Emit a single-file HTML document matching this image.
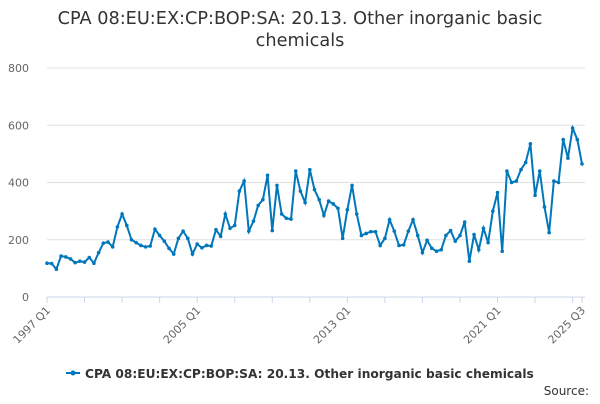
<!DOCTYPE html>
<html><head><meta charset="utf-8"><style>
body{margin:0;background:#fff;font-family:"DejaVu Sans","Liberation Sans",sans-serif}
svg text{font-family:"DejaVu Sans","Liberation Sans",sans-serif}
</style></head><body>
<svg id="c" width="600" height="400">
<text x="300" y="24" text-anchor="middle" font-size="17.7" fill="#333">CPA 08:EU:EX:CP:BOP:SA: 20.13. Other inorganic basic</text>
<text x="300" y="46" text-anchor="middle" font-size="17.7" fill="#333">chemicals</text>
<g id="grid"></g><g id="xa"></g><g id="ser"></g>
<g>
<line x1="66" y1="373" x2="80" y2="373" stroke="#0077bb" stroke-width="2"/><circle cx="73" cy="373" r="2.5" fill="#0077bb"/>
<text x="85" y="378" font-size="12.2" font-weight="bold" fill="#333">CPA 08:EU:EX:CP:BOP:SA: 20.13. Other inorganic basic chemicals</text></g>
<text x="589" y="395" text-anchor="end" font-size="12" fill="#333">Source:</text>
</svg>
<script>
const values=[118,117,97,143,140,133,120,125,122,138,118,155,188,192,175,245,290,250,200,190,180,175,178,237,215,195,170,150,205,230,205,150,185,172,180,178,235,212,290,240,250,370,405,230,265,320,340,425,232,390,290,275,272,440,370,330,445,375,340,285,335,325,310,205,305,390,290,215,222,228,228,180,205,270,230,180,182,230,270,215,155,198,170,160,165,215,232,195,215,262,125,218,165,240,190,300,365,160,440,400,405,445,470,535,355,440,315,225,405,400,550,485,590,550,465];
const yTicks=[0,200,400,600,800];
const xLabels=[["1997 Q1",0],["2005 Q1",32],["2013 Q1",64],["2021 Q1",96],["2025 Q3",114]];
const X0=47,X1=582,Y0=297,Y1=68;
const xs=i=>X0+(X1-X0)*i/(values.length-1);
const ys=v=>Y0-(Y0-Y1)*v/800;
const NS="http://www.w3.org/2000/svg";
function mk(p,t,a){const e=document.createElementNS(NS,t);for(const k in a)e.setAttribute(k,a[k]);p.appendChild(e);return e;}
const g=document.getElementById('grid');
yTicks.forEach(v=>{const l=mk(g,'line',{x1:X0,x2:X1+3,y1:ys(v),y2:ys(v),stroke:v?'#e0e0e0':'#ccd6eb'});


const t=mk(g,'text',{x:29,y:ys(v)+4,'text-anchor':'end','font-size':11,fill:'#666'});t.textContent=v;

});
const xa=document.getElementById('xa');
for(let i=0;i<values.length;i+=8){const l=mk(xa,'line',{x1:xs(i),x2:xs(i),y1:Y0,y2:Y0+6,stroke:'#ccd6eb'});

}
mk(xa,'line',{x1:xs(114),x2:xs(114),y1:Y0,y2:Y0+6,stroke:'#ccd6eb'});
xLabels.forEach(([s,i])=>{const x=xs(i),y=Y0+14;const t=mk(xa,'text',{x:x+4,y:y,'text-anchor':'end','font-size':11,fill:'#666',transform:`rotate(-45 ${x+4} ${y})`});t.textContent=s;

});
const s=document.getElementById('ser');
const p=mk(s,'polyline',{points:values.map((v,i)=>xs(i)+','+ys(v)).join(' '),fill:'none',stroke:'#0077bb','stroke-width':2});


values.forEach((v,i)=>{const c=mk(s,'circle',{cx:xs(i),cy:ys(v),r:1.8,fill:'#0077bb'});

});
</script>
</body></html>
